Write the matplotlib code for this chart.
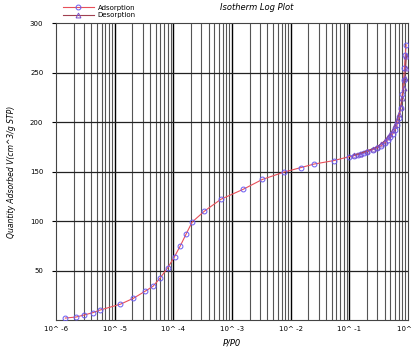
import matplotlib
matplotlib.use("Agg")
import matplotlib.pyplot as plt
from matplotlib.ticker import FixedLocator, NullFormatter

# adsorption branch (P/P0, quantity)
ads_p = [1.45e-6, 2.2e-6, 3.0e-6, 4.3e-6, 5.6e-6, 1.26e-5, 2.1e-5, 3.3e-5, 4.5e-5,
         5.9e-5, 8.1e-5, 1.05e-4, 1.32e-4, 1.66e-4, 2.1e-4, 3.4e-4, 6.5e-4, 1.55e-3,
         3.3e-3, 7.8e-3, 0.015, 0.025, 0.054, 0.10, 0.12, 0.14, 0.16, 0.18, 0.20,
         0.25, 0.30, 0.35, 0.40, 0.45, 0.50, 0.55, 0.60, 0.65, 0.70, 0.75, 0.80,
         0.84, 0.87, 0.90, 0.93]
ads_q = [2, 3, 5, 7.5, 10, 16, 22, 29, 34, 42, 53, 64, 75, 87, 99, 110, 122, 132,
         142, 149.5, 154, 157.5, 161, 165, 166, 167, 168, 169, 170, 172, 174, 176,
         179, 182, 185, 188, 192, 197, 204, 214, 228, 242, 255, 268, 278]

# desorption branch
des_p = [0.94, 0.91, 0.88, 0.85, 0.80, 0.75, 0.70, 0.65, 0.60, 0.55, 0.50, 0.45,
         0.40, 0.35, 0.30, 0.25, 0.20, 0.15, 0.12]
des_q = [267, 255, 244, 234, 224, 215, 208, 202, 197, 192, 188, 185, 181, 178,
         175, 173, 171, 168, 167]

y_ticks = [50, 100, 150, 200, 250, 300]
x_ticks = [1e-6, 1e-5, 1e-4, 1e-3, 1e-2, 1e-1, 1e0]
x_labels = ["10^ -6", "10^ -5", "10^ -4", "10^ -3", "10^ -2", "10^ -1", "10^ 0"]

fig = plt.figure(figsize=(4.14, 3.54), dpi=100)
ax = fig.add_axes([0.135, 0.096, 0.8505, 0.839])

ax.set_xscale("log")
ax.set_xlim(1e-6, 1e0)
ax.set_ylim(0, 300)

# grid lines
minor = [m * 10.0 ** e for e in range(-6, 0) for m in range(2, 10)]
for v in minor:
    ax.axvline(v, color="#555555", lw=0.8, zorder=1)
for v in x_ticks[1:-1]:
    ax.axvline(v, color="black", lw=1.0, zorder=1)
for v in y_ticks[:-1]:
    ax.axhline(v, color="#222222", lw=0.9, zorder=1)

ax.plot(ads_p, ads_q, color="#e8505a", lw=0.8, marker="o", ms=3.5,
        mfc="none", mec="#6a5cf0", mew=0.7, zorder=3, label="Adsorption")
ax.plot(des_p, des_q, color="#a04050", lw=0.8, marker="^", ms=3.5,
        mfc="none", mec="#7a50c8", mew=0.7, zorder=3, label="Desorption")

ax.xaxis.set_major_locator(FixedLocator(x_ticks))
ax.set_xticklabels(x_labels)
ax.xaxis.set_minor_formatter(NullFormatter())
ax.tick_params(axis="x", which="minor", length=0)
ax.tick_params(axis="x", which="major", length=0, labelsize=5, pad=4)
ax.set_yticks(y_ticks)
ax.tick_params(axis="y", length=3, labelsize=5, pad=6)

for s in ax.spines.values():
    s.set_color("#444444")
    s.set_linewidth(0.8)

ax.set_ylabel("Quantity Adsorbed V(cm^3/g STP)", fontsize=5.5, style="italic", labelpad=10)
fig.text(0.56, 0.025, "P/P0", fontsize=6, style="italic", ha="center")
fig.text(0.62, 0.972, "Isotherm Log Plot", fontsize=6, style="italic", ha="center")

fig.legend(loc="upper left", bbox_to_anchor=(0.14, 1.0), fontsize=5, frameon=False,
           numpoints=1, handlelength=4.5, handletextpad=0.5, labelspacing=0.2,
           borderpad=0.2)

fig.savefig("out.png", dpi=100)
